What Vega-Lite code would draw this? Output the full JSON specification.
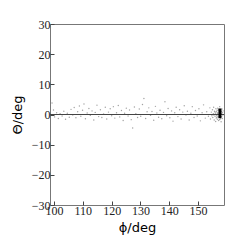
{
  "$schema": "https://vega.github.io/schema/vega-lite/v6.json",
  "autosize": {"type": "none"},
  "width": 174,
  "height": 181,
  "padding": {"left": 50, "top": 24, "right": 25, "bottom": 44},
  "background": "white",
  "config": {
    "view": {"stroke": "#777", "strokeWidth": 1},
    "axis": {
      "grid": false,
      "domain": false,
      "tickColor": "#444",
      "tickSize": -4,
      "labelOverlap": false,
      "labelSeparation": -30,
      "labelFont": "Liberation Serif",
      "labelFontSize": 12,
      "labelColor": "#222",
      "titleFont": "DejaVu Sans",
      "titleFontSize": 13,
      "titleFontWeight": "normal",
      "titleColor": "#000"
    }
  },
  "datasets": {
    "pts": [
      {"phi":99.3,"theta":3.8},{"phi":99.8,"theta":1.5},{"phi":100.2,"theta":-0.8},{"phi":100.9,"theta":0.6},{"phi":101.5,"theta":-1.3},{"phi":102.1,"theta":0.3},{"phi":102.8,"theta":-0.5},{"phi":103.4,"theta":1.1},{"phi":104.0,"theta":-1.6},{"phi":104.6,"theta":0.4},{"phi":105.3,"theta":-0.9},{"phi":105.9,"theta":1.7},{"phi":106.5,"theta":-0.2},{"phi":107.0,"theta":2.3},{"phi":107.6,"theta":-1.1},{"phi":108.2,"theta":0.9},{"phi":108.8,"theta":2.8},{"phi":109.3,"theta":-0.6},{"phi":109.9,"theta":1.4},{"phi":110.4,"theta":3.5},{"phi":110.9,"theta":-1.4},{"phi":111.5,"theta":0.5},{"phi":112.1,"theta":2.0},{"phi":112.6,"theta":-0.3},{"phi":113.2,"theta":1.2},{"phi":113.8,"theta":-1.8},{"phi":114.3,"theta":0.7},{"phi":114.9,"theta":3.1},{"phi":115.5,"theta":-0.7},{"phi":116.1,"theta":1.6},{"phi":116.6,"theta":-1.0},{"phi":117.2,"theta":0.2},{"phi":117.8,"theta":2.4},{"phi":118.3,"theta":-1.5},{"phi":118.9,"theta":0.8},{"phi":119.5,"theta":1.9},{"phi":120.0,"theta":-0.4},{"phi":120.6,"theta":2.6},{"phi":121.1,"theta":-1.2},{"phi":121.7,"theta":0.6},{"phi":122.3,"theta":3.0},{"phi":122.8,"theta":-0.8},{"phi":123.4,"theta":1.3},{"phi":124.0,"theta":-2.0},{"phi":124.5,"theta":0.4},{"phi":125.1,"theta":2.1},{"phi":125.7,"theta":-0.5},{"phi":126.2,"theta":1.5},{"phi":126.8,"theta":-1.7},{"phi":127.3,"theta":-4.5},{"phi":127.9,"theta":2.5},{"phi":128.4,"theta":0.3},{"phi":129.0,"theta":-1.0},{"phi":129.6,"theta":1.8},{"phi":130.1,"theta":-0.6},{"phi":130.7,"theta":3.3},{"phi":131.2,"theta":5.3},{"phi":131.8,"theta":-1.3},{"phi":132.3,"theta":0.9},{"phi":132.9,"theta":2.2},{"phi":133.5,"theta":-0.3},{"phi":134.0,"theta":1.0},{"phi":134.6,"theta":-1.9},{"phi":135.2,"theta":2.7},{"phi":135.7,"theta":0.5},{"phi":136.3,"theta":-0.9},{"phi":136.8,"theta":1.4},{"phi":137.4,"theta":-1.4},{"phi":138.0,"theta":0.7},{"phi":138.5,"theta":4.2},{"phi":139.1,"theta":-0.4},{"phi":139.6,"theta":2.0},{"phi":140.2,"theta":-1.1},{"phi":140.8,"theta":1.2},{"phi":141.3,"theta":-2.2},{"phi":141.9,"theta":0.6},{"phi":142.4,"theta":2.4},{"phi":143.0,"theta":-0.7},{"phi":143.6,"theta":1.6},{"phi":144.1,"theta":-1.5},{"phi":144.7,"theta":0.8},{"phi":145.2,"theta":2.9},{"phi":145.8,"theta":-0.2},{"phi":146.3,"theta":1.1},{"phi":146.9,"theta":-1.8},{"phi":147.5,"theta":0.4},{"phi":148.0,"theta":2.6},{"phi":148.6,"theta":-1.0},{"phi":149.1,"theta":1.3},{"phi":149.7,"theta":-0.5},{"phi":150.3,"theta":1.9},{"phi":150.8,"theta":-2.1},{"phi":151.4,"theta":0.6},{"phi":151.9,"theta":3.2},{"phi":152.5,"theta":-1.2},{"phi":153.0,"theta":0.9},{"phi":153.6,"theta":-0.6},{"phi":154.1,"theta":2.2},
      {"phi":154.3,"theta":-1.5},{"phi":154.6,"theta":0.8},{"phi":154.8,"theta":-0.4},{"phi":155.0,"theta":1.6},{"phi":155.1,"theta":-1.0},{"phi":155.3,"theta":0.3},{"phi":155.4,"theta":2.4},{"phi":155.6,"theta":-1.8},{"phi":155.7,"theta":1.1},{"phi":155.9,"theta":-0.6},{"phi":156.0,"theta":0.5},{"phi":156.1,"theta":-2.3},{"phi":156.2,"theta":1.9},{"phi":156.3,"theta":-1.2},{"phi":156.4,"theta":0.9},{"phi":156.5,"theta":-0.3},{"phi":156.6,"theta":1.4},{"phi":156.7,"theta":-1.6},{"phi":156.8,"theta":2.1},{"phi":156.9,"theta":-0.8},{"phi":157.0,"theta":0.2},{"phi":157.1,"theta":-2.0},{"phi":157.2,"theta":1.3},{"phi":157.3,"theta":-1.1},{"phi":157.4,"theta":0.7},{"phi":157.5,"theta":2.6},{"phi":157.6,"theta":-0.5},{"phi":157.7,"theta":1.6},{"phi":157.8,"theta":-1.4},{"phi":157.9,"theta":0.4},{"phi":158.0,"theta":-2.4},{"phi":158.1,"theta":1.0},{"phi":158.2,"theta":-0.7},{"phi":158.3,"theta":1.8},{"phi":158.4,"theta":-1.3},{"phi":158.5,"theta":0.6},{"phi":158.6,"theta":-0.2},{"phi":158.7,"theta":1.2},{"phi":156.05,"theta":0.1},{"phi":156.45,"theta":-0.9},{"phi":156.85,"theta":0.6},{"phi":157.15,"theta":1.7},{"phi":157.45,"theta":-1.7},{"phi":157.85,"theta":1.1},{"phi":155.85,"theta":0.9},{"phi":155.5,"theta":-0.2},{"phi":156.7,"theta":0.3},{"phi":157.3,"theta":-0.1},{"phi":158.0,"theta":0.3},{"phi":157.0,"theta":-0.6}
    ],
    "bar": [{"phi": 157.6, "theta": -1.2, "hi": 2.0}],
    "zero": [{"phi": 98.6, "theta": 0}, {"phi": 159, "theta": 0}]
  },
  "encoding": {
    "x": {"field": "phi", "type": "quantitative", "scale": {"domain": [98.6, 159], "nice": false, "zero": false},
          "axis": {"values": [100, 110, 120, 130, 140, 150], "labelOverlap": false, "labelFlush": false, "title": "ϕ/deg", "labelPadding": 4, "titlePadding": 5}},
    "y": {"field": "theta", "type": "quantitative", "scale": {"domain": [-30, 30], "nice": false},
          "axis": {"values": [-30, -20, -10, 0, 10, 20, 30], "labelOverlap": false, "labelFlush": false, "title": "Θ/deg", "labelPadding": 4, "titlePadding": 7, "labelExpr": "replace(datum.label, '-', '−')"}}
  },
  "layer": [
    {
      "data": {"name": "pts"},
      "mark": {"type": "point", "filled": true, "size": 2, "color": "#999", "opacity": 0.9}
    },
    {
      "data": {"name": "zero"},
      "mark": {"type": "line", "color": "#444", "strokeWidth": 1}
    },
    {
      "data": {"name": "bar"},
      "mark": {"type": "rule", "color": "#000", "strokeWidth": 3},
      "encoding": {"y2": {"field": "hi"}}
    }
  ]
}
